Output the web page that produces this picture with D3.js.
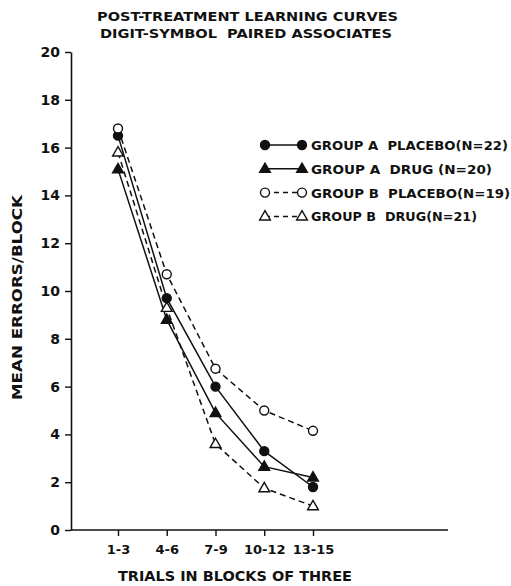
<!DOCTYPE html>
<html>
<head>
<meta charset="utf-8">
<script src="https://cdn.jsdelivr.net/npm/d3@7"></script>
<style>
  body { margin: 0; background: #fff; }
  text { font-family: "DejaVu Sans", "Liberation Sans", sans-serif; font-weight: bold; fill: #111; white-space: pre; }
</style>
</head>
<body>
<div id="chart"></div>
<script>
// trial blocks on the x axis
var blocks = ["1-3", "4-6", "7-9", "10-12", "13-15"];
var yTicks = [0, 2, 4, 6, 8, 10, 12, 14, 16, 18, 20];

// mean errors per block
var groupAPlacebo = [16.5, 9.7, 6.0, 3.3, 1.8];
var groupADrug    = [15.1, 8.8, 4.9, 2.65, 2.2];
var groupBPlacebo = [16.8, 10.7, 6.75, 5.0, 4.15];
var groupBDrug    = [15.8, 9.3, 3.6, 1.75, 1.0];

var seriesNames = ["GROUP A  PLACEBO(N=22)", "GROUP A  DRUG (N=20)", "GROUP B  PLACEBO(N=19)", "GROUP B  DRUG(N=21)"];

var series = [
  { name: seriesNames[0], values: groupAPlacebo, filled: true,  shape: "circle",   dashed: false },
  { name: seriesNames[1], values: groupADrug,    filled: true,  shape: "triangle", dashed: false },
  { name: seriesNames[2], values: groupBPlacebo, filled: false, shape: "circle",   dashed: true },
  { name: seriesNames[3], values: groupBDrug,    filled: false, shape: "triangle", dashed: true }
];

var width = 511, height = 586;
var ink = "#111";

var svg = d3.select("#chart").append("svg")
  .attr("width", width)
  .attr("height", height);

var x = d3.scalePoint().domain(blocks).range([118, 313]);
var y = d3.scaleLinear().domain([0, 20]).range([530, 52]);

// title
svg.append("text").attr("x", 97).attr("y", 21)
  .attr("textLength", 301).attr("lengthAdjust", "spacingAndGlyphs")
  .style("font-size", "13px")
  .text("POST-TREATMENT LEARNING CURVES");
svg.append("text").attr("x", 100).attr("y", 38)
  .attr("textLength", 292).attr("lengthAdjust", "spacingAndGlyphs")
  .style("font-size", "13px")
  .text("DIGIT-SYMBOL  PAIRED ASSOCIATES");

// y axis
var yAxis = svg.append("g")
  .attr("transform", "translate(71,0)")
  .call(d3.axisLeft(y).tickValues(yTicks).tickSize(6).tickSizeOuter(0).tickPadding(5));
yAxis.select(".domain").attr("stroke", ink).attr("stroke-width", 1.6);
yAxis.selectAll(".tick line").attr("stroke", ink).attr("stroke-width", 1.4);
yAxis.selectAll(".tick text").style("font-size", "14px").attr("fill", ink);

// x axis, the line runs on past the last block
var xAxis = svg.append("g")
  .attr("transform", "translate(0,530)")
  .call(d3.axisBottom(x).tickSize(6).tickSizeOuter(0).tickPadding(9));
xAxis.select(".domain").remove();
xAxis.append("line").attr("x1", 71).attr("x2", 448).attr("y1", 0).attr("y2", 0)
  .attr("stroke", ink).attr("stroke-width", 1.6);
xAxis.selectAll(".tick line").attr("stroke", ink).attr("stroke-width", 1.4);
xAxis.selectAll(".tick text").style("font-size", "13px").attr("fill", ink);

// axis titles
svg.append("text").attr("x", 118).attr("y", 581)
  .attr("textLength", 234).attr("lengthAdjust", "spacingAndGlyphs")
  .style("font-size", "14px")
  .text("TRIALS IN BLOCKS OF THREE");
svg.append("text")
  .attr("transform", "translate(22,400) rotate(-90)")
  .attr("textLength", 205).attr("lengthAdjust", "spacingAndGlyphs")
  .style("font-size", "14px")
  .text("MEAN ERRORS/BLOCK");

var line = d3.line()
  .x(function(d, i) { return x(blocks[i]); })
  .y(function(d) { return y(d); });

var tri = d3.symbol().type(d3.symbolTriangle).size(50);

function drawMarker(g, s, cx, cy) {
  if (s.shape == "circle") {
    g.append("circle").attr("cx", cx).attr("cy", cy).attr("r", 4.5)
      .attr("fill", s.filled ? ink : "#fff")
      .attr("stroke", ink).attr("stroke-width", 1.4);
  } else {
    g.append("path").attr("d", tri())
      .attr("transform", "translate(" + cx + "," + (cy + 0.5) + ")")
      .attr("fill", s.filled ? ink : "#fff")
      .attr("stroke", ink).attr("stroke-width", 1.4);
  }
}

// curves
series.forEach(function(s) {
  var g = svg.append("g");
  g.append("path").datum(s.values)
    .attr("d", line)
    .attr("fill", "none")
    .attr("stroke", ink)
    .attr("stroke-width", 1.5)
    .attr("stroke-dasharray", s.dashed ? "6,4" : null);
  s.values.forEach(function(v, i) {
    drawMarker(g, s, x(blocks[i]), y(v));
  });
});

// legend
var legendWidths = [197, 181, 199, 166];
series.forEach(function(s, i) {
  var ly = 145 + i * 23.8;
  var g = svg.append("g");
  g.append("line").attr("x1", 265).attr("x2", 302).attr("y1", ly).attr("y2", ly)
    .attr("stroke", ink).attr("stroke-width", 1.5)
    .attr("stroke-dasharray", s.dashed ? "5,4" : null);
  drawMarker(g, s, 265, ly);
  drawMarker(g, s, 302, ly);
  g.append("text").attr("x", 311).attr("y", ly + 5)
    .attr("textLength", legendWidths[i]).attr("lengthAdjust", "spacingAndGlyphs")
    .style("font-size", "13px")
    .text(s.name);
});
</script>
</body>
</html>
